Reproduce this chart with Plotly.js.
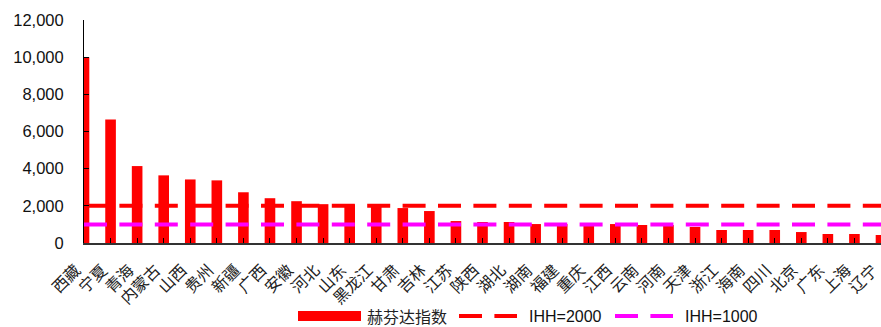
<!DOCTYPE html>
<html>
<head>
<meta charset="utf-8">
<script src="https://cdn.plot.ly/plotly-3.0.1.min.js"></script>
<style>
  html, body { margin: 0; padding: 0; background: #fff; }
  #chart { width: 881px; height: 327px; }
</style>
</head>
<body>
<div id="chart"></div>
<script>
// Provinces, ordered by Herfindahl index
const provinces = ['西藏', '宁夏', '青海', '内蒙古', '山西', '贵州', '新疆', '广西', '安徽', '河北',
  '山东', '黑龙江', '甘肃', '吉林', '江苏', '陕西', '湖北', '湖南', '福建', '重庆',
  '江西', '云南', '河南', '天津', '浙江', '海南', '四川', '北京', '广东', '上海', '辽宁'];

// Herfindahl index per province
const hhiValues = [10000, 6650, 4140, 3640, 3420, 3370, 2730, 2410, 2250, 2090,
  2080, 2060, 1880, 1720, 1180, 1130, 1130, 1020, 1020, 1020,
  1020, 970, 965, 860, 700, 700, 700, 590, 485, 484, 430];

// Reference thresholds
const IHH_HIGH = 2000;
const IHH_LOW = 1000;

// Y-axis ticks
const yTicks = [0, 2000, 4000, 6000, 8000, 10000, 12000];

const W = 881, H = 327;
const M = { l: 84, r: 0, t: 20, b: 84 };
const plotW = W - M.l - M.r, plotH = H - M.t - M.b;
const px2x = px => (px - M.l) / plotW;
const py2y = py => (H - M.b - py) / plotH;

const RED = '#FF0000';
const PINK = '#FF00FF';
const DASH = '23px,12.4px';
const cjk = '"Noto Sans CJK SC", "Noto Sans", sans-serif';
const latin = '"Liberation Sans", Arial, sans-serif';

const traces = [
  {
    type: 'bar', name: '赫芬达指数', x: provinces, y: hhiValues,
    width: 0.4, marker: { color: RED, line: { width: 0 } },
    showlegend: false, hoverinfo: 'x+y'
  },
  {
    type: 'scatter', mode: 'lines', name: 'IHH=2000',
    x: [provinces[0], provinces[provinces.length - 1]], y: [IHH_HIGH, IHH_HIGH],
    line: { color: RED, width: 4, dash: DASH }, showlegend: false
  },
  {
    type: 'scatter', mode: 'lines', name: 'IHH=1000',
    x: [provinces[0], provinces[provinces.length - 1]], y: [IHH_LOW, IHH_LOW],
    line: { color: PINK, width: 4, dash: DASH }, showlegend: false
  }
];

// Legend row drawn under the category labels
const legendY = py2y(316);
const shapes = [
  { type: 'rect', xref: 'paper', yref: 'paper', x0: px2x(298), x1: px2x(361),
    y0: py2y(321), y1: py2y(311), fillcolor: RED, line: { width: 0 } },
  { type: 'line', xref: 'paper', yref: 'paper', x0: px2x(459), x1: px2x(517),
    y0: legendY, y1: legendY, line: { color: RED, width: 4, dash: DASH } },
  { type: 'line', xref: 'paper', yref: 'paper', x0: px2x(615), x1: px2x(673),
    y0: legendY, y1: legendY, line: { color: PINK, width: 4, dash: DASH } }
];
const annotations = [
  { text: '赫芬达指数', x: px2x(365), y: legendY, font: { family: cjk, size: 16, color: '#222' } },
  { text: 'IHH=2000', x: px2x(527), y: legendY, font: { family: latin, size: 16, color: '#111' } },
  { text: 'IHH=1000', x: px2x(683), y: legendY, font: { family: latin, size: 16, color: '#111' } }
].map(a => Object.assign({ xref: 'paper', yref: 'paper', xanchor: 'left', yanchor: 'middle',
  showarrow: false }, a));

const layout = {
  width: W, height: H,
  margin: M,
  paper_bgcolor: '#fff', plot_bgcolor: '#fff',
  showlegend: false,
  xaxis: {
    type: 'category', range: [0, provinces.length - 1], automargin: false,
    showline: true, linecolor: '#333', linewidth: 1.5,
    ticks: 'inside', ticklen: 5, tickcolor: '#000', tickwidth: 1,
    showgrid: false, zeroline: false,
    tickangle: -45, ticklabelshift: -8, ticklabelstandoff: 10,
    tickfont: { family: cjk, size: 16, color: '#222' }
  },
  yaxis: {
    range: [0, 12000], tickvals: yTicks, tickformat: ',d', automargin: false,
    showline: true, linecolor: '#000', linewidth: 1,
    ticks: 'inside', ticklen: 5, tickcolor: '#000',
    showgrid: false, zeroline: false,
    ticklabelstandoff: 16,
    tickfont: { family: latin, size: 16.5, color: '#111' }
  },
  shapes, annotations
};

Plotly.newPlot('chart', traces, layout, { staticPlot: true, displayModeBar: false });
</script>
</body>
</html>
